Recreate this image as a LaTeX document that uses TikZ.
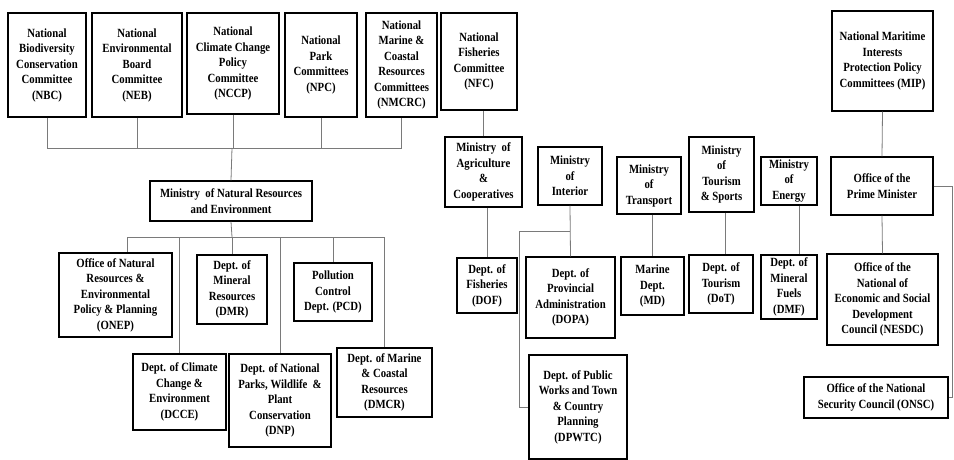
\documentclass[tikz,border=0pt]{standalone}
\usepackage{fontspec}
\setmainfont{Liberation Serif}[FakeStretch=0.86]
\usepackage{tikz}
\usetikzlibrary{positioning,calc}
\definecolor{LinkGray}{HTML}{7A7A7A}

\begin{document}
\begin{tikzpicture}[
  x=1pt, y=-1pt,
  box/.style={draw,line width=1.4pt,fill=white,inner sep=1pt,align=center,
    font=\bfseries\fontsize{12.5pt}{15.5pt}\selectfont},
  link/.style={draw=LinkGray,line width=0.8pt}
]
  \useasboundingbox (0,0) rectangle (954,460);

  % committees
  \node[box, minimum width=78pt, minimum height=104pt] (nbc) at (47,65) {National\\Biodiversity\\Conservation\\Committee\\(NBC)};
  \node[box, minimum width=90pt, minimum height=104pt] (neb) at (137,65) {National\\Environmental\\Board\\Committee\\(NEB)};
  \node[box, minimum width=92pt, minimum height=101pt] (nccp) at (233,63.5) {National\\Climate Change\\Policy\\Committee\\(NCCP)};
  \node[box, minimum width=72pt, minimum height=104pt] (npc) at (321,65) {National\\Park\\Committees\\(NPC)};
  \node[box, minimum width=71pt, minimum height=104pt] (nmcrc) at (401.5,65) {National\\Marine \&\\Coastal\\Resources\\Committees\\(NMCRC)};
  \node[box, minimum width=76pt, minimum height=97pt] (nfc) at (479,61.5) {National\\Fisheries\\Committee\\(NFC)};
  \node[box, minimum width=101pt, minimum height=100pt] (mip) at (882.5,61) {National Maritime\\Interests\\Protection Policy\\Committees (MIP)};

  % natural resources and environment
  \node[box, minimum width=162pt, minimum height=40pt] (mnre) at (231,201) {Ministry\ \ of Natural Resources\\and Environment};
  \node[box, minimum width=113pt, minimum height=84pt] (onep) at (115.5,295) {Office of Natural\\Resources \&\\Environmental\\Policy \& Planning\\(ONEP)};
  \node[box, minimum width=70pt, minimum height=69pt] (dmr) at (232,289.5) {Dept. of\\Mineral\\Resources\\(DMR)};
  \node[box, minimum width=78pt, minimum height=58pt] (pcd) at (333,292) {Pollution\\Control\\Dept. (PCD)};
  \node[box, minimum width=93pt, minimum height=76pt] (dcce) at (179.5,392) {Dept. of Climate\\Change \&\\Environment\\(DCCE)};
  \node[box, minimum width=102pt, minimum height=93pt] (dnp) at (280,400.5) {Dept. of National\\Parks, Wildlife\ \ \&\\Plant\\Conservation\\(DNP)};
  \node[box, minimum width=95pt, minimum height=69pt] (dmcr) at (384.5,382.5) {Dept. of Marine\\\& Coastal\\Resources\\(DMCR)};

  % other ministries
  \node[box, minimum width=77pt, minimum height=70pt] (agri) at (483.5,172) {Ministry\ \ of\\Agriculture\\\&\\Cooperatives};
  \node[box, minimum width=64pt, minimum height=58pt] (interior) at (570,176) {Ministry\\of\\Interior};
  \node[box, minimum width=64pt, minimum height=57pt] (transport) at (649,185.5) {Ministry\\of\\Transport};
  \node[box, minimum width=65pt, minimum height=75pt] (tourism) at (721.5,174.5) {Ministry\\of\\Tourism\\\& Sports};
  \node[box, minimum width=56pt, minimum height=48pt] (energy) at (789,181) {Ministry\\of\\Energy};
  \node[box, minimum width=102pt, minimum height=58pt] (pm) at (882,186) {Office of the\\Prime Minister};

  \node[box, minimum width=60pt, minimum height=55pt] (dof) at (487,285.5) {Dept. of\\Fisheries\\(DOF)};
  \node[box, minimum width=89pt, minimum height=81pt] (dopa) at (570.5,297.5) {Dept. of\\Provincial\\Administration\\(DOPA)};
  \node[box, minimum width=98pt, minimum height=104pt] (dpwtc) at (578,407) {Dept. of Public\\Works and Town\\\& Country\\Planning\\(DPWTC)};
  \node[box, minimum width=63pt, minimum height=58pt] (md) at (652.5,286) {Marine\\Dept.\\(MD)};
  \node[box, minimum width=64pt, minimum height=58pt] (dot) at (721,284) {Dept. of\\Tourism\\(DoT)};
  \node[box, minimum width=56pt, minimum height=64pt] (dmf) at (789,287) {Dept. of\\Mineral\\Fuels\\(DMF)};
  \node[box, minimum width=111pt, minimum height=91pt] (nesdc) at (882.5,299.5) {Office of the\\National of\\Economic and Social\\Development\\Council (NESDC)};
  \node[box, minimum width=144pt, minimum height=41pt] (onsc) at (876,397.5) {Office of the National\\Security Council (ONSC)};

  % committee bus
  \coordinate (topbus) at (232,148);
  \draw[link] (nbc.south) |- (nmcrc.south |- topbus) -- (nmcrc.south);
  \draw[link] (neb.south) -- (neb.south |- topbus);
  \draw[link] (npc.south) -- (npc.south |- topbus);
  \draw[link] (nccp.south) -- (nccp.south |- topbus);
  \draw[link] (topbus) -- (mnre.north);

  % department bus
  \coordinate (deptbus) at (232,237);
  \coordinate (onepdrop) at (127,237);
  \draw[link] (mnre.south) -- (deptbus);
  \draw[link] (onepdrop) -- (dmcr.north |- deptbus) -- (dmcr.north);
  \draw[link] (onepdrop) -- (onepdrop |- onep.north);
  \draw[link] (dcce.north |- deptbus) -- (dcce.north);
  \draw[link] (deptbus) -- (dmr.north);
  \draw[link] (dnp.north |- deptbus) -- (dnp.north);
  \draw[link] (pcd.north |- deptbus) -- (pcd.north);

  % right side
  \draw[link] (agri.north) -- (agri.north |- nfc.south);
  \draw[link] (dof.north |- agri.south) -- (dof.north);
  \coordinate (intjoin) at (570,231);
  \draw[link] (interior.south) -- (dopa.north);
  \draw[link] (intjoin) -| ($(dpwtc.west)+(-9,0)$) -- (dpwtc.west);
  \draw[link] (md.north |- transport.south) -- (md.north);
  \draw[link] ([xshift=4pt]tourism.south) -- ([xshift=4pt]tourism.south |- dot.north);
  \draw[link] ([xshift=10pt]energy.south) -- ([xshift=10pt]dmf.north);
  \draw[link] (mip.south) -- (pm.north);
  \draw[link] (pm.south) -- (nesdc.north);
  \draw[link] (pm.east) -| ($(onsc.east)+(4,0)$) -- (onsc.east);
\end{tikzpicture}
\end{document}
